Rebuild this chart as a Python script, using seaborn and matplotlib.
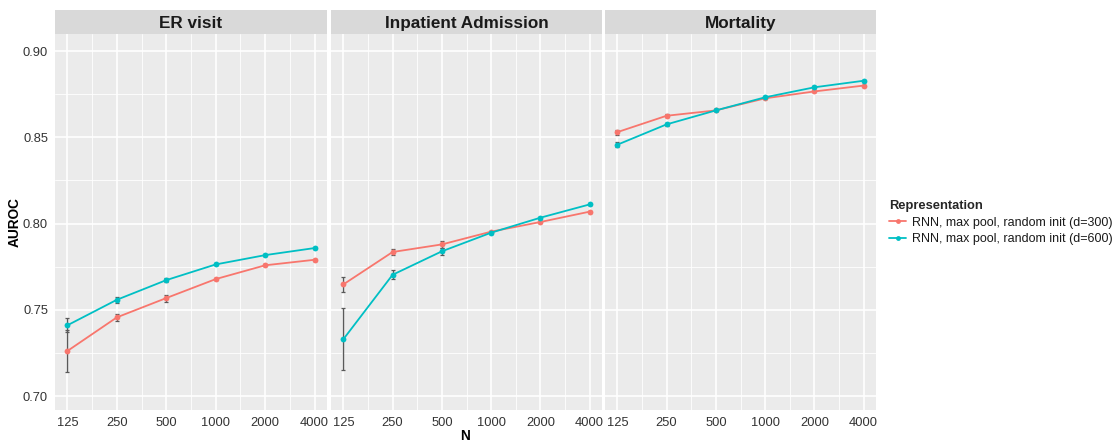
import numpy as np
import pandas as pd
import matplotlib
matplotlib.use("Agg")
import matplotlib.pyplot as plt
from matplotlib.lines import Line2D
import seaborn as sns

# ---- data ----
N_values = [125, 250, 500, 1000, 2000, 4000]
tick_labels = ["125", "250", "500", "1000", "2000", "4000"]
panels = ["ER visit", "Inpatient Admission", "Mortality"]
series = ["RNN, max pool, random init (d=300)", "RNN, max pool, random init (d=600)"]

er_d300 = [0.7261, 0.7456, 0.7568, 0.7678, 0.7758, 0.7790]
er_d600 = [0.7410, 0.7558, 0.7672, 0.7763, 0.7817, 0.7858]
er_d300_err = [0.0120, 0.0020, 0.0020, 0.0005, 0.0005, 0.0005]
er_d600_err = [0.0040, 0.0018, 0.0012, 0.0005, 0.0005, 0.0005]

ip_d300 = [0.7647, 0.7835, 0.7879, 0.7953, 0.8009, 0.8069]
ip_d600 = [0.7329, 0.7703, 0.7839, 0.7947, 0.8034, 0.8111]
ip_d300_err = [0.0042, 0.0015, 0.0020, 0.0005, 0.0005, 0.0005]
ip_d600_err = [0.0180, 0.0027, 0.0020, 0.0005, 0.0005, 0.0005]

mo_d300 = [0.8530, 0.8625, 0.8656, 0.8726, 0.8766, 0.8800]
mo_d600 = [0.8457, 0.8575, 0.8656, 0.8732, 0.8790, 0.8828]
mo_d300_err = [0.0015, 0.0008, 0.0005, 0.0005, 0.0005, 0.0005]
mo_d600_err = [0.0015, 0.0010, 0.0005, 0.0005, 0.0005, 0.0005]

panel_data = {
    "ER visit": (er_d300, er_d600, er_d300_err, er_d600_err),
    "Inpatient Admission": (ip_d300, ip_d600, ip_d300_err, ip_d600_err),
    "Mortality": (mo_d300, mo_d600, mo_d300_err, mo_d600_err),
}

colors = ["#F8766D", "#00BFC4"]
palette = dict(zip(series, colors))

rows = []
for p in panels:
    a, b, ea, eb = panel_data[p]
    for i, n in enumerate(N_values):
        rows.append(dict(panel=p, N=n, rep=series[0], auroc=a[i], err=ea[i]))
        rows.append(dict(panel=p, N=n, rep=series[1], auroc=b[i], err=eb[i]))
df = pd.DataFrame(rows)

sns.set_style("white")
plt.rcParams["font.family"] = ["Liberation Sans", "DejaVu Sans"]

W, H = 1118, 442
fig = plt.figure(figsize=(W / 100, H / 100), dpi=100)

panel_x = [(55, 327), (331, 602), (605, 876)]
top, bottom = 34, 410
strip_top = 10

ylo, yhi = 0.6919, 0.9099
xlo = 2 ** (np.log2(125) - 0.25)
xhi = 2 ** (np.log2(4000) + 0.25)

for k, p in enumerate(panels):
    x0, x1 = panel_x[k]
    ax = fig.add_axes([x0 / W, 1 - bottom / H, (x1 - x0) / W, (bottom - top) / H])
    ax.set_facecolor("#EBEBEB")
    ax.set_xscale("log", base=2)
    ax.set_xlim(xlo, xhi)
    ax.set_ylim(ylo, yhi)
    minor_x = [np.sqrt(N_values[i] * N_values[i + 1]) for i in range(len(N_values) - 1)]
    for mx in minor_x:
        ax.axvline(mx, color="white", lw=0.6, zorder=0.5)
    for my in [0.725, 0.775, 0.825, 0.875]:
        ax.axhline(my, color="white", lw=0.6, zorder=0.5)
    for n in N_values:
        ax.axvline(n, color="white", lw=1.2, zorder=0.6)
    for y in [0.70, 0.75, 0.80, 0.85, 0.90]:
        ax.axhline(y, color="white", lw=1.2, zorder=0.6)

    sub = df[df.panel == p]
    for s in series:
        ss = sub[sub.rep == s]
        ax.errorbar(ss.N, ss.auroc, yerr=ss.err, fmt="none", ecolor="#595959",
                    elinewidth=1.0, capsize=1.1, capthick=0.9, zorder=2)
    sns.lineplot(data=sub, x="N", y="auroc", hue="rep", palette=palette,
                 hue_order=series, marker="o", markersize=4.2, markeredgewidth=0,
                 linewidth=1.3, errorbar=None, legend=False, ax=ax, zorder=3)

    ax.set_xticks(N_values)
    ax.set_xticklabels(tick_labels)
    ax.xaxis.set_minor_locator(matplotlib.ticker.NullLocator())
    ax.set_yticks([0.70, 0.75, 0.80, 0.85, 0.90])
    if k == 0:
        ax.set_yticklabels(["0.70", "0.75", "0.80", "0.85", "0.90"])
    else:
        ax.set_yticklabels([])
    ax.tick_params(axis="both", which="major", length=3, width=0.8, color="#333333",
                   labelsize=9.3, labelcolor="#333333", pad=2)
    if k != 0:
        ax.tick_params(axis="y", length=0)
    for sp in ax.spines.values():
        sp.set_visible(False)
    ax.set_xlabel("")
    ax.set_ylabel("")

    sax = fig.add_axes([x0 / W, 1 - top / H, (x1 - x0) / W, (top - strip_top) / H])
    sax.set_facecolor("#D9D9D9")
    sax.set_xticks([])
    sax.set_yticks([])
    for sp in sax.spines.values():
        sp.set_visible(False)
    sax.text(0.5, 0.45, p, ha="center", va="center", fontsize=12.3, fontweight="bold",
             color="#1A1A1A", transform=sax.transAxes)

fig.text(15 / W, 1 - 222 / H, "AUROC", rotation=90, ha="center", va="center",
         fontsize=9.8, fontweight="bold", color="black")
fig.text(465 / W, 1 - 436 / H, "N", ha="center", va="center",
         fontsize=9.8, fontweight="bold", color="black")

handles = [Line2D([0], [0], color=c, marker="o", markersize=3.5, lw=1.3,
                  markeredgewidth=0) for c in colors]
leg = fig.legend(handles, series, loc="upper left", bbox_to_anchor=(883 / W, 1 - 194 / H),
                 frameon=False, fontsize=9.0, title="Representation",
                 title_fontproperties={"weight": "bold", "size": 9.3},
                 handlelength=1.35, handletextpad=0.5, labelspacing=0.35,
                 borderpad=0, alignment="left")
for t in leg.get_texts():
    t.set_color("#1A1A1A")

fig.savefig("out.png", dpi=100, facecolor="white")
